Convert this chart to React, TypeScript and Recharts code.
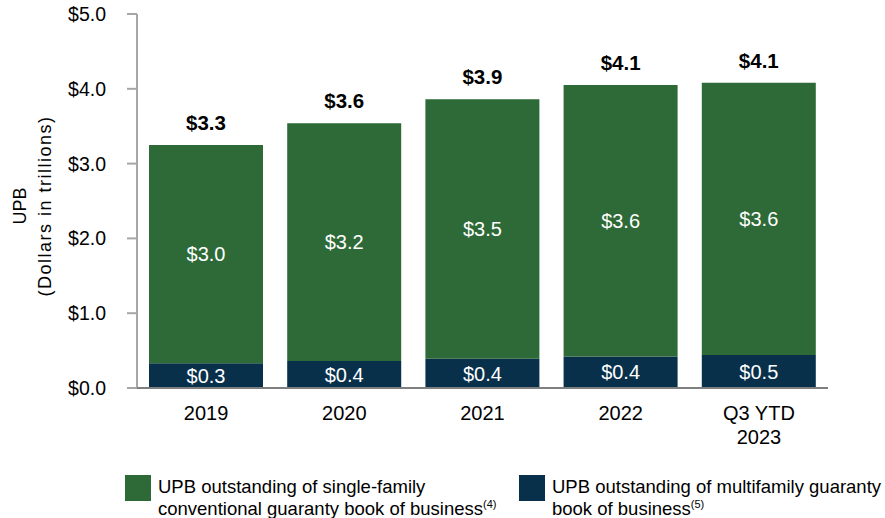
import React from 'react';
import { BarChart, Bar, XAxis, YAxis, LabelList, Legend } from 'recharts';

const categories = ['2019', '2020', '2021', '2022', 'Q3 YTD\n2023'];
const singleFamily = [2.92, 3.18, 3.47, 3.63, 3.64];
const multifamily = [0.33, 0.36, 0.39, 0.42, 0.44];
const singleLabels = ['$3.0', '$3.2', '$3.5', '$3.6', '$3.6'];
const multiLabels = ['$0.3', '$0.4', '$0.4', '$0.4', '$0.5'];
const totalLabels = ['$3.3', '$3.6', '$3.9', '$4.1', '$4.1'];
const yTicks = [0, 1, 2, 3, 4, 5];

const GREEN = '#2E6A37';
const NAVY = '#08304B';
const FONT = '"Liberation Sans", Arial, sans-serif';

const data = categories.map((c, i) => ({
  category: c,
  single: singleFamily[i],
  multi: multifamily[i],
  singleLabel: singleLabels[i],
  multiLabel: multiLabels[i],
  totalLabel: totalLabels[i],
}));

const XTick = (props: any) => {
  const { x, y, payload } = props;
  const lines = String(payload.value).split('\n');
  return (
    <text x={x} y={y} textAnchor="middle" fill="#000" fontSize={20} fontFamily={FONT}>
      {lines.map((l, i) => (
        <tspan key={i} x={x} dy={i === 0 ? 32 : 24}>
          {l}
        </tspan>
      ))}
    </text>
  );
};

const YLabel = () => (
  <text
    x={26}
    y={206}
    transform="rotate(-90, 26, 206)"
    textAnchor="middle"
    fill="#000"
    fontSize={18}
    fontFamily={FONT}
  >
    <tspan x={26} dy={0}>UPB</tspan>
    <tspan x={26} dy={25} letterSpacing={1.5}>(Dollars in trillions)</tspan>
  </text>
);

const supStyle: React.CSSProperties = {
  fontSize: 11,
  verticalAlign: 'top',
  lineHeight: '11px',
  position: 'relative',
  top: 1,
};

const LegendContent = () => (
  <div style={{ position: 'relative', width: 885, height: 48, fontFamily: FONT, color: '#000' }}>
    <div style={{ position: 'absolute', left: 125, top: 5, width: 26, height: 26, background: GREEN }} />
    <div style={{ position: 'absolute', left: 158, top: 6, fontSize: 18.5, lineHeight: '22px', whiteSpace: 'nowrap' }}>
      UPB outstanding of single-family
      <br />
      conventional guaranty book of business
      <span style={supStyle}>(4)</span>
    </div>
    <div style={{ position: 'absolute', left: 519, top: 5, width: 26, height: 26, background: NAVY }} />
    <div style={{ position: 'absolute', left: 552, top: 6, fontSize: 18.5, lineHeight: '22px', whiteSpace: 'nowrap' }}>
      UPB outstanding of multifamily guaranty
      <br />
      book of business
      <span style={supStyle}>(5)</span>
    </div>
  </div>
);

export default function App() {
  return (
    <div style={{ position: 'absolute', left: 0, top: 0, width: 885, height: 518, background: '#fff' }}>
      <BarChart
        width={885}
        height={518}
        data={data}
        margin={{ top: 14, right: 57, left: 0, bottom: 0 }}
        style={{ fontFamily: FONT }}
      >
        <YAxis
          type="number"
          domain={[0, 5]}
          ticks={yTicks}
          width={137}
          tickFormatter={(v: number) => `$${v.toFixed(1)}`}
          tick={{ fill: '#000', fontSize: 19.5, fontFamily: FONT }}
          tickSize={10}
          tickMargin={21}
          axisLine={{ stroke: '#A6A6A6', strokeWidth: 2 }}
          tickLine={{ stroke: '#A6A6A6', strokeWidth: 2 }}
          label={<YLabel />}
        />
        <XAxis
          dataKey="category"
          height={130}
          tickLine={false}
          tickSize={0}
          tickMargin={0}
          interval={0}
          axisLine={{ stroke: '#7F7F7F', strokeWidth: 2 }}
          tick={<XTick />}
        />
        <Legend
          layout="horizontal"
          verticalAlign="middle"
          align="center"
          content={<LegendContent />}
          wrapperStyle={{ position: 'absolute', left: 0, top: 470, width: 885 }}
        />
        <Bar dataKey="multi" stackId="a" fill={NAVY} barSize={114} isAnimationActive={false}>
          <LabelList dataKey="multiLabel" position="center" fill="#fff" fontSize={20} fontFamily={FONT} />
        </Bar>
        <Bar dataKey="single" stackId="a" fill={GREEN} barSize={114} isAnimationActive={false}>
          <LabelList dataKey="singleLabel" position="center" fill="#fff" fontSize={20} fontFamily={FONT} />
          <LabelList
            dataKey="totalLabel"
            position="top"
            offset={15}
            fill="#000"
            fontSize={20.5}
            fontWeight="bold"
            fontFamily={FONT}
          />
        </Bar>
      </BarChart>
    </div>
  );
}
